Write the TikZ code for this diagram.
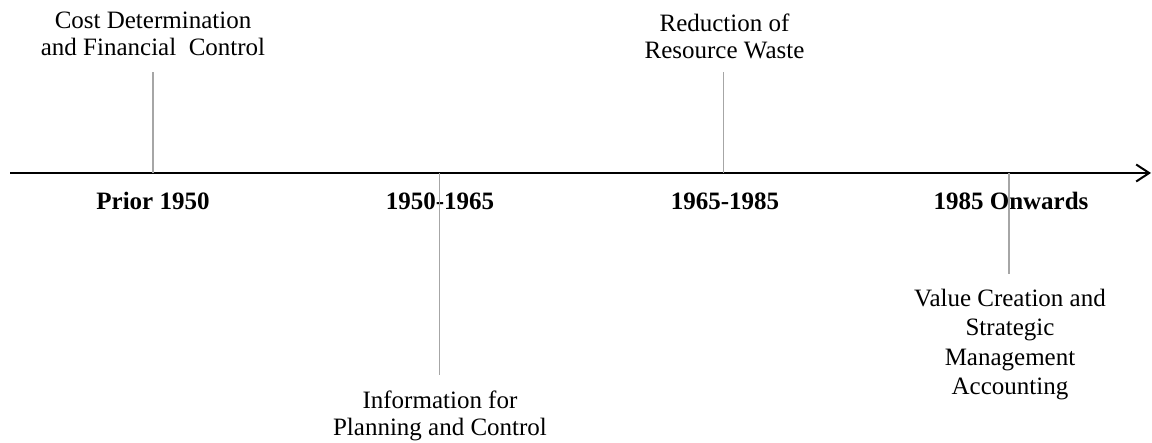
\documentclass[tikz,border=0pt]{standalone}
\usepackage{fontspec}
\setmainfont{Liberation Serif}
\usetikzlibrary{arrows.meta}
\definecolor{tickgray}{HTML}{A6A6A6}
\tikzset{
  axisline/.style={line width=2pt, black, -{Straight Barb[length=13pt,width=17pt,line width=2pt]}},
  tickline/.style={line width=1.3pt, tickgray},
  period/.style={font=\fontsize{25}{27.5}\selectfont\bfseries, inner sep=0pt, anchor=base},
  event/.style={font=\fontsize{25}{27.5}\selectfont, align=center, inner sep=0pt, anchor=north},
  eventwide/.style={font=\fontsize{25}{29.5}\selectfont, align=center, inner sep=0pt, anchor=north}
}
\begin{document}
\begin{tikzpicture}[x=1pt,y=-1pt]
\useasboundingbox (0,0) rectangle (1152,443);
% axis
\coordinate (axstart) at (10,173);
\coordinate (axend) at (1151,173);
\draw[axisline] (axstart) -- (axend);
% period labels
\node[period] (p1) at (153,210) {Prior 1950};
\node[period] (p2) at (440,210) {1950-1965};
\node[period] (p3) at (725,210) {1965-1985};
\node[period] (p4) at (1011,210) {1985 Onwards};
% events
\node[event] (e1) at (153,11.5) {Cost Determination\\and Financial\hspace{0.25em} Control};
\node[event] (e3) at (724.5,13.5) {Reduction of\\Resource Waste};
\node[event] (e2) at (440,390.5) {Information for\\Planning and Control};
\node[eventwide] (e4) at (1010,288.5) {Value Creation and\\Strategic\\Management\\Accounting};
% tick lines
\coordinate (t1a) at (153,173);   \coordinate (t1b) at (153,72);
\coordinate (t2a) at (439.5,173); \coordinate (t2b) at (439.5,375);
\coordinate (t3a) at (723.5,173); \coordinate (t3b) at (723.5,72);
\coordinate (t4a) at (1009,173);  \coordinate (t4b) at (1009,274);
\draw[tickline] (t1a) -- (t1b);
\draw[tickline] (t2a) -- (t2b);
\draw[tickline] (t3a) -- (t3b);
\draw[tickline] (t4a) -- (t4b);
\end{tikzpicture}
\end{document}
